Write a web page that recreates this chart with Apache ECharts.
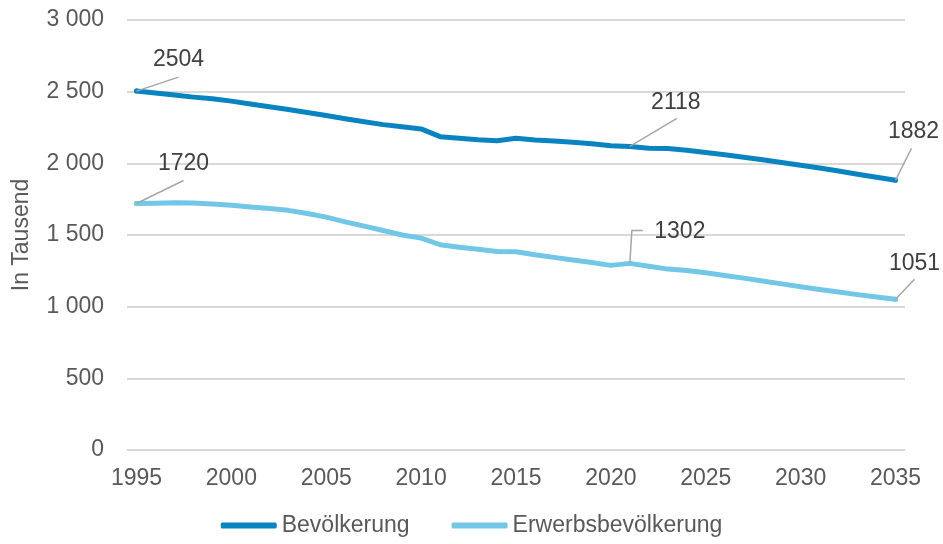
<!DOCTYPE html>
<html>
<head>
<meta charset="utf-8">
<script src="https://cdn.jsdelivr.net/npm/echarts@6/dist/echarts.min.js"></script>
<style>
html,body{margin:0;padding:0;background:#fff;}
#chart{width:943px;height:544px;}
</style>
</head>
<body>
<div id="chart"></div>
<script>
// ---- data ----
const years = [];
for (let y = 1995; y <= 2035; y++) years.push(String(y));

const seriesNames = ['Bevölkerung', 'Erwerbsbevölkerung'];

const bevoelkerung = [
  2504, 2490, 2476, 2462, 2450, 2434, 2414, 2395, 2375, 2355,
  2334, 2311, 2290, 2270, 2255, 2240, 2186, 2175, 2164, 2158,
  2175, 2163, 2155, 2147, 2137, 2122, 2118, 2105, 2103, 2091,
  2076, 2060, 2043, 2025, 2006, 1987, 1967, 1946, 1924, 1903,
  1882
];

const erwerbsbevoelkerung = [
  1720, 1722, 1725, 1724, 1717, 1708, 1696, 1685, 1672, 1650,
  1625, 1592, 1562, 1531, 1500, 1478, 1432, 1415, 1400, 1385,
  1383, 1362, 1344, 1326, 1308, 1288, 1302, 1282, 1262, 1252,
  1236, 1218, 1199, 1179, 1159, 1139, 1120, 1102, 1084, 1067,
  1051
];

const yTicks = [0, 500, 1000, 1500, 2000, 2500, 3000];
const labelledYears = ['1995', '2021', '2035'];

// ---- styles ----
const colors = ['#0a84c1', '#72c7e7'];
const textColor = '#595959';
const labelColor = '#404040';
const leaderColor = '#a6a6a6';
const font = 'Liberation Sans, Arial, sans-serif';
const fs = 23;

// label offsets (text centre relative to point) and leader polyline offsets, per series/year
const annot = [
  {
    '1995': { text: [42, -31], leader: [[42, -14]] },
    '2021': { text: [46, -44], leader: [[47, -28]] },
    '2035': { text: [18, -49], leader: [[16, -32]] }
  },
  {
    '1995': { text: [47, -40], leader: [[47, -23]] },
    '2021': { text: [50, -32], leader: [[2, -33], [13, -33]] },
    '2035': { text: [19, -36], leader: [[19, -20]] }
  }
];

function buildData(values, sIdx) {
  return values.map((v, i) => {
    const yr = years[i];
    if (labelledYears.indexOf(yr) >= 0) {
      return {
        value: v,
        symbol: 'circle',
        symbolSize: 5,
        label: {
          show: true,
          position: 'inside',
          offset: annot[sIdx][yr].text,
          align: 'center',
          verticalAlign: 'middle',
          formatter: String(v),
          color: labelColor,
          fontSize: fs,
          fontFamily: font
        }
      };
    }
    return v;
  });
}

const chart = echarts.init(document.getElementById('chart'), null, { renderer: 'canvas' });

const option = {
  animation: false,
  backgroundColor: '#fff',
  grid: { left: 127, right: 38, top: 20, bottom: 94, containLabel: false },
  legend: {
    bottom: 2,
    left: 'center',
    itemWidth: 56,
    itemHeight: 6,
    itemGap: 42,
    icon: 'roundRect',
    textStyle: { color: textColor, fontSize: fs, fontFamily: font },
    data: seriesNames
  },
  xAxis: {
    type: 'category',
    data: years,
    boundaryGap: true,
    axisLine: { show: false },
    axisTick: { show: false },
    axisLabel: {
      interval: 4,
      color: textColor,
      fontSize: fs,
      fontFamily: font,
      margin: 17
    },
    splitLine: { show: false }
  },
  yAxis: {
    type: 'value',
    min: yTicks[0],
    max: yTicks[yTicks.length - 1],
    interval: 500,
    name: 'In Tausend',
    nameLocation: 'middle',
    nameGap: 94,
    nameRotate: 90,
    nameTextStyle: { color: textColor, fontSize: fs, fontFamily: font },
    axisLine: { show: false },
    axisTick: { show: false },
    axisLabel: {
      color: textColor,
      fontSize: fs,
      fontFamily: font,
      margin: 23,
      formatter: v => String(v).replace(/\B(?=(\d{3})+(?!\d))/g, ' ')
    },
    splitLine: { lineStyle: { color: '#d9d9d9', width: 2 } }
  },
  series: [
    {
      name: seriesNames[0],
      type: 'line',
      data: buildData(bevoelkerung, 0),
      symbol: 'none',
      showSymbol: true,
      lineStyle: { color: colors[0], width: 5, cap: 'round', join: 'round' },
      itemStyle: { color: colors[0] },
      emphasis: { disabled: true },
      z: 3
    },
    {
      name: seriesNames[1],
      type: 'line',
      data: buildData(erwerbsbevoelkerung, 1),
      symbol: 'none',
      showSymbol: true,
      lineStyle: { color: colors[1], width: 5, cap: 'round', join: 'round' },
      itemStyle: { color: colors[1] },
      emphasis: { disabled: true },
      z: 2
    }
  ]
};

chart.setOption(option);

// leader lines anchored at the data points through the chart's own scales
const allValues = [bevoelkerung, erwerbsbevoelkerung];
const graphics = [];
allValues.forEach((vals, s) => {
  labelledYears.forEach(yr => {
    const idx = years.indexOf(yr);
    const p = chart.convertToPixel({ seriesIndex: s }, [idx, vals[idx]]);
    const pts = [p].concat(annot[s][yr].leader.map(o => [p[0] + o[0], p[1] + o[1]]));
    graphics.push({
      type: 'polyline',
      shape: { points: pts },
      style: { stroke: leaderColor, lineWidth: 1.5, fill: null },
      z: 10,
      silent: true
    });
  });
});
chart.setOption({ graphic: graphics });
</script>
</body>
</html>
